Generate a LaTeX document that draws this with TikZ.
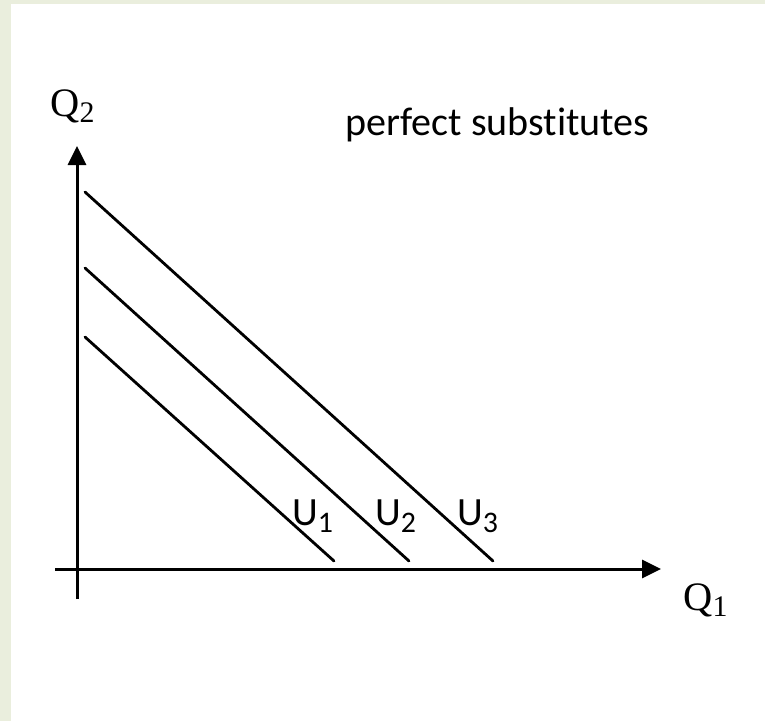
\documentclass[tikz,border=0pt]{standalone}
\usepackage{fontspec}
\setmainfont{Carlito}[Ligatures={NoCommon}]
\newfontfamily\qfont{Liberation Serif}
\usetikzlibrary{arrows.meta}
\definecolor{strip}{RGB}{234,238,221}

\begin{document}
\begin{tikzpicture}[x=0.02cm, y=-0.02cm, >={Triangle[length=0.38cm, width=0.36cm]}, line width=0.06cm,
		curve/.style={line width=0.056cm, line cap=round},
		lbl/.style={font=\fontsize{22.8}{27}\selectfont, inner sep=0pt},
		axlbl/.style={font=\qfont\fontsize{23}{27}\selectfont, inner sep=0pt}]
	% 背景与左侧色条
	\fill[strip] (0,0) rectangle (765,721);
	\fill[white] (11,4) rectangle (765,721);
	\useasboundingbox (0,0) rectangle (765,721);
	
	% 坐标轴
	\coordinate (ybot) at (77,599);
	\coordinate (ytop) at (77,146);
	\coordinate (xleft) at (55,569);
	\coordinate (xright) at (661,569);
	\draw[->] (ybot) -- (ytop);
	\draw[->] (xleft) -- (xright);
	\node[axlbl] (q2) at (73,106) {Q\textsubscript{\fontsize{17}{20}\selectfont 2}};
	\node[axlbl] (q1) at (706,600) {Q\textsubscript{\fontsize{17}{20}\selectfont 1}};
	
	% 无差异曲线 U1, U2, U3
	\coordinate (u1a) at (85,337);
	\coordinate (u1b) at (334,561);
	\coordinate (u2a) at (85,268);
	\coordinate (u2b) at (409,561);
	\coordinate (u3a) at (85,192);
	\coordinate (u3b) at (493,561);
	\draw[curve] (u1a) -- (u1b);
	\draw[curve] (u2a) -- (u2b);
	\draw[curve] (u3a) -- (u3b);
	\node[lbl] (u1) at (313,516) {U\textsubscript{\fontsize{17}{20}\selectfont 1}};
	\node[lbl] (u2) at (396,516) {U\textsubscript{\fontsize{17}{20}\selectfont 2}};
	\node[lbl] (u3) at (478,516) {U\textsubscript{\fontsize{17}{20}\selectfont 3}};
	
	% 标题
	\node[lbl, anchor=base west] (title) at (344,135) {perfect substitutes};
\end{tikzpicture}
\end{document}
